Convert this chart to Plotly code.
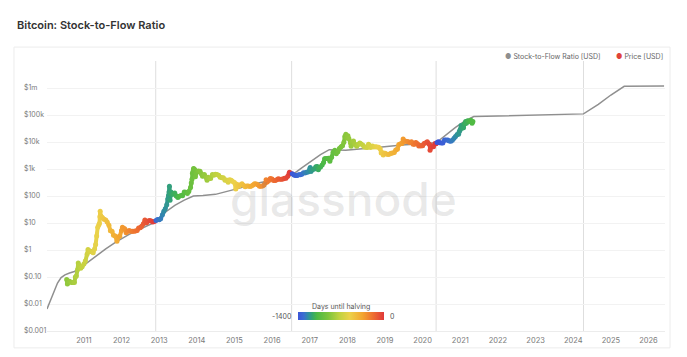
import math
from datetime import date
import plotly.graph_objects as go
from plotly.colors import sample_colorscale, hex_to_rgb

title_text = "Bitcoin: Stock-to-Flow Ratio"
halving_dates = ["2012-11-28", "2016-07-09", "2020-05-11", "2024-04-10"]

s2f_dates = ["2010-01-08", "2010-02-10", "2010-03-15", "2010-04-20", "2010-05-25", "2010-07-01",
             "2010-08-15", "2010-10-01", "2010-11-15", "2011-01-15", "2011-04-28", "2011-08-01",
             "2011-11-10", "2012-03-15", "2012-07-01", "2012-11-28", "2013-03-01", "2013-06-01",
             "2013-09-01", "2013-11-28", "2014-03-01", "2014-07-01", "2015-03-01", "2015-09-01",
             "2016-03-01", "2016-07-09", "2016-10-15", "2017-01-15", "2017-04-15", "2017-07-09",
             "2017-12-15", "2018-12-01", "2019-06-15", "2020-05-11", "2020-08-15", "2020-11-15",
             "2021-02-15", "2021-05-11", "2024-04-10", "2024-09-01", "2025-01-01", "2025-05-10",
             "2026-06-01"]
s2f_values = [0.0065, 0.013, 0.03, 0.06, 0.095, 0.12,
              0.14, 0.16, 0.2, 0.3, 0.6, 1.1,
              2.0, 3.8, 6.0, 11, 25, 45,
              70, 100, 105, 115, 200, 310,
              430, 580, 1100, 2000, 3400, 5200,
              5000, 6500, 7800, 9300, 18000, 35000,
              60000, 88000, 110000, 250000, 550000, 1150000,
              1180000]

price_dates = [
    "2010-07-18", "2010-07-25", "2010-08-01", "2010-08-15", "2010-09-01", "2010-09-15", "2010-10-01",
    "2010-10-10", "2010-10-20", "2010-11-01", "2010-11-07", "2010-11-15", "2010-12-01", "2010-12-15",
    "2011-01-01", "2011-01-15", "2011-02-01", "2011-02-10", "2011-02-20", "2011-03-01", "2011-03-15",
    "2011-04-01", "2011-04-15", "2011-04-25", "2011-05-05", "2011-05-15", "2011-05-25", "2011-06-01",
    "2011-06-05", "2011-06-08", "2011-06-12", "2011-06-20", "2011-07-01", "2011-07-15", "2011-08-01",
    "2011-08-15", "2011-09-01", "2011-09-15", "2011-10-01", "2011-10-15", "2011-11-01", "2011-11-18",
    "2011-12-01", "2011-12-15",
    "2012-01-01", "2012-01-10", "2012-01-20", "2012-02-01", "2012-02-15", "2012-03-01", "2012-03-15",
    "2012-04-01", "2012-04-15", "2012-05-01", "2012-05-15", "2012-06-01", "2012-06-15", "2012-07-01",
    "2012-07-15", "2012-08-01", "2012-08-15", "2012-08-20", "2012-09-01", "2012-09-15", "2012-10-01",
    "2012-10-15", "2012-11-01", "2012-11-15", "2012-12-01", "2012-12-15",
    "2013-01-01", "2013-01-15", "2013-02-01", "2013-02-15", "2013-03-01", "2013-03-15", "2013-03-25",
    "2013-04-01", "2013-04-06", "2013-04-10", "2013-04-12", "2013-04-16", "2013-04-25", "2013-05-01",
    "2013-05-15", "2013-06-01", "2013-06-15", "2013-07-01", "2013-07-15", "2013-08-01", "2013-08-15",
    "2013-09-01", "2013-09-15", "2013-10-01", "2013-10-15", "2013-11-01", "2013-11-08", "2013-11-15",
    "2013-11-19", "2013-11-25", "2013-11-30", "2013-12-05", "2013-12-10", "2013-12-18", "2013-12-25",
    "2014-01-01", "2014-01-15", "2014-02-01", "2014-02-15", "2014-02-25", "2014-03-01", "2014-03-15",
    "2014-04-01", "2014-04-10", "2014-04-20", "2014-05-01", "2014-05-15", "2014-06-01", "2014-06-15",
    "2014-07-01", "2014-07-15", "2014-08-01", "2014-08-15", "2014-09-01", "2014-09-15", "2014-10-01",
    "2014-10-15", "2014-11-01", "2014-11-15", "2014-12-01", "2014-12-15",
    "2015-01-01", "2015-01-14", "2015-01-25", "2015-02-01", "2015-02-15", "2015-03-01", "2015-03-15",
    "2015-04-01", "2015-04-15", "2015-05-01", "2015-05-15", "2015-06-01", "2015-06-15", "2015-07-01",
    "2015-07-15", "2015-08-01", "2015-08-15", "2015-09-01", "2015-09-15", "2015-10-01", "2015-10-15",
    "2015-11-01", "2015-11-04", "2015-11-15", "2015-12-01", "2015-12-15",
    "2016-01-01", "2016-01-15", "2016-02-01", "2016-02-15", "2016-03-01", "2016-03-15", "2016-04-01",
    "2016-04-15", "2016-05-01", "2016-05-15", "2016-06-01", "2016-06-15", "2016-06-18", "2016-07-01",
    "2016-07-15", "2016-08-01", "2016-08-15", "2016-09-01", "2016-09-15", "2016-10-01", "2016-10-15",
    "2016-11-01", "2016-11-15", "2016-12-01", "2016-12-15",
    "2017-01-01", "2017-01-05", "2017-01-12", "2017-01-20", "2017-02-01", "2017-02-15", "2017-03-01",
    "2017-03-15", "2017-03-25", "2017-04-01", "2017-04-15", "2017-05-01", "2017-05-15", "2017-05-25",
    "2017-06-01", "2017-06-15", "2017-07-01", "2017-07-15", "2017-08-01", "2017-08-15", "2017-09-01",
    "2017-09-15", "2017-10-01", "2017-10-15", "2017-11-01", "2017-11-15", "2017-11-28", "2017-12-07",
    "2017-12-17", "2017-12-22", "2017-12-28",
    "2018-01-06", "2018-01-15", "2018-02-01", "2018-02-06", "2018-02-15", "2018-03-01", "2018-03-15",
    "2018-04-01", "2018-04-15", "2018-05-01", "2018-05-15", "2018-06-01", "2018-06-15", "2018-07-01",
    "2018-07-15", "2018-07-25", "2018-08-01", "2018-08-15", "2018-09-01", "2018-09-15", "2018-10-01",
    "2018-10-15", "2018-11-01", "2018-11-15", "2018-11-25", "2018-12-01", "2018-12-15", "2018-12-25",
    "2019-01-01", "2019-01-15", "2019-02-01", "2019-02-15", "2019-03-01", "2019-03-15", "2019-04-01",
    "2019-04-15", "2019-05-01", "2019-05-15", "2019-06-01", "2019-06-15", "2019-06-26", "2019-07-01",
    "2019-07-15", "2019-08-01", "2019-08-15", "2019-09-01", "2019-09-15", "2019-10-01", "2019-10-15",
    "2019-10-26", "2019-11-01", "2019-11-15", "2019-11-25", "2019-12-01", "2019-12-15",
    "2020-01-01", "2020-01-15", "2020-02-01", "2020-02-15", "2020-03-01", "2020-03-10", "2020-03-13",
    "2020-03-20", "2020-04-01", "2020-04-15", "2020-04-30", "2020-05-11", "2020-05-20", "2020-06-01",
    "2020-06-15", "2020-07-01", "2020-07-15", "2020-08-01", "2020-08-15", "2020-09-01", "2020-09-15",
    "2020-10-01", "2020-10-15", "2020-11-01", "2020-11-15", "2020-12-01", "2020-12-15", "2020-12-20",
    "2020-12-27",
    "2021-01-01", "2021-01-08", "2021-01-15", "2021-01-22", "2021-02-01", "2021-02-08", "2021-02-15",
    "2021-02-21", "2021-03-01", "2021-03-13", "2021-03-20", "2021-04-01", "2021-04-14", "2021-04-25",
    "2021-05-03",
]
price_values = [
    0.08, 0.055, 0.062, 0.07, 0.063, 0.062, 0.062,
    0.10, 0.11, 0.19, 0.33, 0.27, 0.21, 0.24,
    0.30, 0.39, 0.70, 1.05, 0.86, 0.92, 0.87,
    0.79, 1.1, 1.6, 3.3, 7.0, 8.5, 9.6,
    17, 27, 19, 17, 15.5, 13.8, 13,
    11, 8.2, 5.2, 5.0, 3.5, 3.3, 2.1,
    3.0, 3.2,
    5.3, 7.0, 6.4, 6.1, 4.4, 4.9, 5.3,
    4.9, 5.0, 5.0, 5.1, 5.3, 6.5, 6.7,
    7.6, 9.4, 13, 10.5, 10.2, 11.8, 12.4,
    11.8, 10.8, 11.3, 12.5, 13.5,
    13.3, 14.5, 20, 27, 34, 47, 78,
    104, 140, 230, 120, 70, 140, 116,
    115, 128, 100, 88, 98, 105, 103,
    140, 137, 125, 147, 205, 300, 420,
    700, 800, 1050, 1000, 950, 520, 700,
    770, 850, 830, 650, 540, 560, 630,
    480, 380, 500, 450, 445, 630, 590,
    640, 620, 590, 500, 475, 475, 385,
    395, 325, 400, 380, 345,
    315, 180, 270, 225, 235, 260, 285,
    245, 220, 235, 237, 225, 235, 258,
    285, 280, 260, 228, 230, 237, 255,
    315, 400, 330, 375, 445,
    430, 375, 375, 400, 435, 415, 415,
    430, 450, 455, 535, 690, 760, 675,
    665, 605, 570, 575, 610, 615, 640,
    730, 710, 750, 780,
    1000, 1130, 800, 900, 980, 1010, 1220,
    1250, 940, 1080, 1180, 1420, 1750, 2400,
    2400, 2450, 2500, 1930, 2750, 4200, 4900,
    3700, 4400, 5700, 6700, 7300, 9800, 16000,
    19300, 14000, 14500,
    17000, 13500, 9000, 6900, 10100, 10900, 8200,
    6900, 8000, 9200, 8500, 7500, 6500, 6400,
    6300, 8200, 7600, 6300, 7100, 6500, 6600,
    6500, 6350, 5600, 3900, 4200, 3300, 3800,
    3800, 3600, 3450, 3600, 3800, 3900, 4100,
    5100, 5350, 8000, 8600, 8800, 12800, 10500,
    10800, 10400, 10300, 9600, 10300, 8300, 8300,
    9500, 9200, 8500, 7100, 7400, 7100,
    7200, 8800, 9400, 10300, 8600, 7900, 4900,
    6200, 6600, 6700, 8800, 8600, 9500, 10200,
    9400, 9100, 9200, 11800, 11900, 11900, 10800,
    10600, 11500, 13800, 16000, 18800, 19300, 23500,
    26500,
    29400, 40700, 36800, 33000, 33500, 46200, 48700,
    57500, 49600, 61000, 58000, 59000, 63500, 49000,
    57000,
]
assert len(price_dates) == len(price_values)

ytick_vals = [0.001, 0.01, 0.1, 1, 10, 100, 1e3, 1e4, 1e5, 1e6]
ytick_text = ["$0.001", "$0.01", "$0.10", "$1", "$10", "$100", "$1k", "$10k", "$100k", "$1m"]
grid_vals = ytick_vals + [1e7]
x_years = ["2011", "2012", "2013", "2014", "2015", "2016", "2017", "2018",
           "2019", "2020", "2021", "2022", "2023", "2024", "2025", "2026"]

colorbar_title = "Days until halving"
color_min, color_max = -1400, 0
colorscale_hex = [[0.0, "#3b55d9"], [0.07, "#3a6fd0"], [0.12, "#2f8fa0"], [0.17, "#35a86a"],
                  [0.22, "#4cb944"], [0.35, "#7dc43c"], [0.48, "#c0d240"], [0.60, "#ecd24a"],
                  [0.75, "#f3a530"], [0.87, "#ee7030"], [1.0, "#e0383a"]]
colorscale = [[p, "rgb(%d,%d,%d)" % hex_to_rgb(c)] for p, c in colorscale_hex]

# days until next halving for each price point (negative)
hv = [date.fromisoformat(h) for h in halving_dates]
days_until = []
for d in price_dates:
    dd = date.fromisoformat(d)
    nxt = next(h for h in hv if h >= dd)
    days_until.append(-(nxt - dd).days)
norm = [(v - color_min) / (color_max - color_min) for v in days_until]
seg_colors = sample_colorscale(colorscale, [min(max(n, 0), 1) for n in norm])

FONT = "Inter, Roboto, sans-serif"
fig = go.Figure()

fig.add_trace(go.Scatter(
    x=s2f_dates, y=s2f_values, mode="lines",
    line=dict(color="#8f8f8f", width=1.5), showlegend=False, hoverinfo="skip",
    name="Stock-to-Flow Ratio [USD]"))

# thick coloured price line: one short segment between consecutive price points
for i in range(len(price_dates) - 1):
    fig.add_trace(go.Scatter(
        x=price_dates[i:i + 2], y=price_values[i:i + 2], mode="lines",
        line=dict(color=seg_colors[i], width=4), showlegend=False, hoverinfo="skip"))

fig.add_trace(go.Scatter(
    x=price_dates, y=price_values, mode="markers", name="Price [USD]", showlegend=False,
    marker=dict(size=5, color=days_until, cmin=color_min, cmax=color_max,
                colorscale=colorscale, line=dict(width=0),
                colorbar=dict(orientation="h", x=0.475, xanchor="center", y=0.04, yanchor="bottom",
                              len=0.1385, lenmode="fraction", thickness=8, xpad=0, ypad=0,
                              outlinewidth=0, showticklabels=False, ticks=""))))

for h in halving_dates:
    fig.add_shape(type="line", xref="x", yref="paper", x0=h, x1=h, y0=0, y1=1,
                  line=dict(color="#dedede", width=1), layer="below")

# card border
fig.add_shape(type="rect", xref="paper", yref="paper", x0=-0.0534, x1=1.0081, y0=-0.0625, y1=1.0515,
              line=dict(color="#ececec", width=1), fillcolor="rgba(0,0,0,0)", layer="below")

small = dict(family=FONT, size=7, color="#7a7a7a")
annotations = []
for v, t in zip(ytick_vals, ytick_text):
    annotations.append(dict(text=t, xref="paper", x=-0.0405, xanchor="left", yref="y", y=math.log10(v),
                            yanchor="middle", yshift=1, showarrow=False, font=small))
annotations += [
    dict(text=title_text, xref="paper", yref="paper", x=-0.0518, y=1.132, xanchor="left", yanchor="middle",
         showarrow=False, font=dict(family="Inter SemiBold, Inter, sans-serif", size=11, color="#333333")),
    dict(text='<span style="color:#8f8f8f">●</span> Stock-to-Flow Ratio [USD]', xref="paper", yref="paper",
         x=0.738, y=1.018, xanchor="left", yanchor="middle", showarrow=False,
         font=dict(family=FONT, size=7, color="#666666")),
    dict(text='<span style="color:#e0443a">●</span> Price [USD]', xref="paper", yref="paper",
         x=0.917, y=1.018, xanchor="left", yanchor="middle", showarrow=False,
         font=dict(family=FONT, size=7, color="#666666")),
    dict(text=colorbar_title, xref="paper", yref="paper", x=0.475, y=0.092, xanchor="center",
         yanchor="middle", showarrow=False, font=dict(family=FONT, size=7, color="#555555")),
    dict(text="-1400", xref="paper", yref="paper", x=0.398, y=0.055, xanchor="right", yanchor="middle",
         showarrow=False, font=dict(family=FONT, size=7, color="#555555")),
    dict(text="0", xref="paper", yref="paper", x=0.551, y=0.055, xanchor="left", yanchor="middle",
         showarrow=False, font=dict(family=FONT, size=7, color="#555555")),
    dict(text="glassnode", xref="paper", yref="paper", x=0.479, y=0.489, xanchor="center",
         yanchor="middle", showarrow=False,
         font=dict(family="Inter, sans-serif", size=46, weight=500, color="rgba(120,120,120,0.17)")),
]

# page body has an 8px margin, so the figure is 8px smaller than the window
fig.update_layout(
    width=679, height=349,
    margin=dict(l=39, r=22, t=53, b=24),
    paper_bgcolor="white", plot_bgcolor="white",
    showlegend=False,
    font=dict(family=FONT, size=7, color="#7a7a7a"),
    annotations=annotations,
    xaxis=dict(type="date", range=["2010-01-08", "2026-06-10"], tickmode="array",
               tickvals=[y + "-01-01" for y in x_years], ticktext=x_years,
               showgrid=False, zeroline=False, showline=True, linecolor="#ececec", linewidth=1,
               ticks="", ticklabelstandoff=2, tickfont=dict(family=FONT, size=7.5, color="#7a7a7a")),
    yaxis=dict(type="log", range=[-3, 7], tickmode="array", tickvals=grid_vals,
               showticklabels=False, showgrid=True, gridcolor="#f2f2f2", gridwidth=1,
               zeroline=False, showline=False, ticks=""),
)

fig.write_html("out.html")
